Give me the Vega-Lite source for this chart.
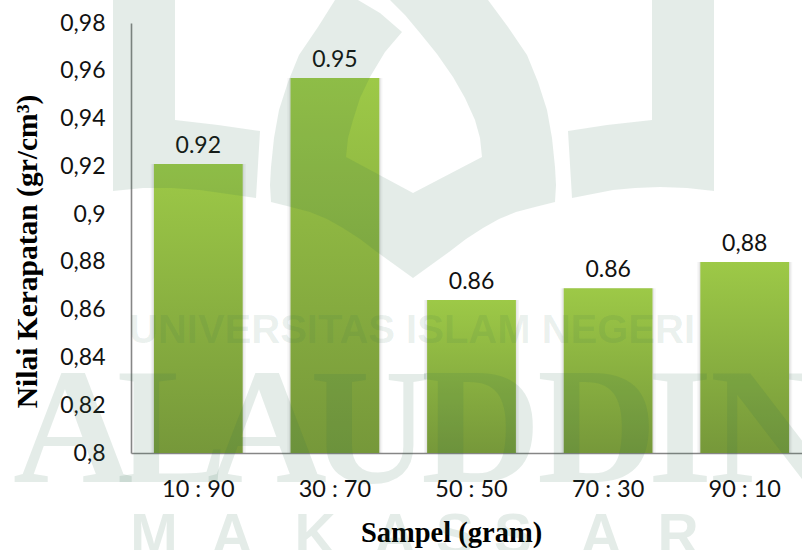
{
  "$schema": "https://vega.github.io/schema/vega-lite/v6.json",
  "width": 671,
  "height": 430,
  "padding": {"left": 131, "top": 23, "right": 0, "bottom": 97},
  "autosize": {"type": "none"},
  "background": "white",
  "config": {"view": {"stroke": null}},
  "datasets": {
    "samples": [
      {"sampel": "10 : 90", "kerapatan": 0.921, "teks": "0.92"},
      {"sampel": "30 : 70", "kerapatan": 0.957, "teks": "0.95"},
      {"sampel": "50 : 50", "kerapatan": 0.864, "teks": "0.86"},
      {"sampel": "70 : 30", "kerapatan": 0.869, "teks": "0.86"},
      {"sampel": "90 : 10", "kerapatan": 0.88, "teks": "0,88"}
    ],
    "emblem": [
      {"part": "kiri", "n": 1, "u": -300, "v": 460},
      {"part": "kiri", "n": 2, "u": -238, "v": 460},
      {"part": "kiri", "n": 3, "u": -238, "v": 333},
      {"part": "kiri", "n": 4, "u": -195, "v": 328},
      {"part": "kiri", "n": 5, "u": -153, "v": 322},
      {"part": "kiri", "n": 6, "u": -157, "v": 255},
      {"part": "kiri", "n": 7, "u": -185, "v": 259},
      {"part": "kiri", "n": 8, "u": -213, "v": 263},
      {"part": "kiri", "n": 9, "u": -241, "v": 265},
      {"part": "kiri", "n": 10, "u": -270, "v": 265},
      {"part": "kiri", "n": 11, "u": -300, "v": 262},
      {"part": "kanan", "n": 1, "u": 239, "v": 460},
      {"part": "kanan", "n": 2, "u": 301, "v": 460},
      {"part": "kanan", "n": 3, "u": 301, "v": 262},
      {"part": "kanan", "n": 4, "u": 274, "v": 265},
      {"part": "kanan", "n": 5, "u": 247, "v": 266},
      {"part": "kanan", "n": 6, "u": 222, "v": 265},
      {"part": "kanan", "n": 7, "u": 200, "v": 263},
      {"part": "kanan", "n": 8, "u": 159, "v": 255},
      {"part": "kanan", "n": 9, "u": 155, "v": 322},
      {"part": "kanan", "n": 10, "u": 194, "v": 328},
      {"part": "kanan", "n": 11, "u": 239, "v": 333},
      {"part": "tengah", "n": 1, "u": -142, "v": 251},
      {"part": "tengah", "n": 2, "u": -143, "v": 268},
      {"part": "tengah", "n": 3, "u": -142, "v": 286},
      {"part": "tengah", "n": 4, "u": -139, "v": 315},
      {"part": "tengah", "n": 5, "u": -134, "v": 343},
      {"part": "tengah", "n": 6, "u": -125, "v": 371},
      {"part": "tengah", "n": 7, "u": -114, "v": 398},
      {"part": "tengah", "n": 8, "u": -95, "v": 426},
      {"part": "tengah", "n": 9, "u": -78, "v": 453},
      {"part": "tengah", "n": 10, "u": -55, "v": 453},
      {"part": "tengah", "n": 11, "u": -33, "v": 440},
      {"part": "tengah", "n": 12, "u": -11, "v": 421},
      {"part": "tengah", "n": 13, "u": -28, "v": 401},
      {"part": "tengah", "n": 14, "u": -43, "v": 376},
      {"part": "tengah", "n": 15, "u": -53, "v": 355},
      {"part": "tengah", "n": 16, "u": -60, "v": 333},
      {"part": "tengah", "n": 17, "u": -65, "v": 315},
      {"part": "tengah", "n": 18, "u": -67, "v": 296},
      {"part": "tengah", "n": 19, "u": 0, "v": 260},
      {"part": "tengah", "n": 20, "u": 69, "v": 296},
      {"part": "tengah", "n": 21, "u": 67, "v": 315},
      {"part": "tengah", "n": 22, "u": 62, "v": 333},
      {"part": "tengah", "n": 23, "u": 52, "v": 355},
      {"part": "tengah", "n": 24, "u": 40, "v": 376},
      {"part": "tengah", "n": 25, "u": 24, "v": 399},
      {"part": "tengah", "n": 26, "u": 7, "v": 420},
      {"part": "tengah", "n": 27, "u": -8, "v": 438},
      {"part": "tengah", "n": 28, "u": -23, "v": 453},
      {"part": "tengah", "n": 29, "u": 75, "v": 453},
      {"part": "tengah", "n": 30, "u": 95, "v": 426},
      {"part": "tengah", "n": 31, "u": 114, "v": 398},
      {"part": "tengah", "n": 32, "u": 125, "v": 371},
      {"part": "tengah", "n": 33, "u": 134, "v": 343},
      {"part": "tengah", "n": 34, "u": 139, "v": 315},
      {"part": "tengah", "n": 35, "u": 142, "v": 286},
      {"part": "tengah", "n": 36, "u": 143, "v": 268},
      {"part": "tengah", "n": 37, "u": 142, "v": 251},
      {"part": "tengah", "n": 38, "u": 122, "v": 246},
      {"part": "tengah", "n": 39, "u": 103, "v": 241},
      {"part": "tengah", "n": 40, "u": 86, "v": 234},
      {"part": "tengah", "n": 41, "u": 70, "v": 225},
      {"part": "tengah", "n": 42, "u": 53, "v": 214},
      {"part": "tengah", "n": 43, "u": 36, "v": 201},
      {"part": "tengah", "n": 44, "u": 18, "v": 188},
      {"part": "tengah", "n": 45, "u": 0, "v": 175},
      {"part": "tengah", "n": 46, "u": -18, "v": 188},
      {"part": "tengah", "n": 47, "u": -36, "v": 201},
      {"part": "tengah", "n": 48, "u": -53, "v": 214},
      {"part": "tengah", "n": 49, "u": -70, "v": 225},
      {"part": "tengah", "n": 50, "u": -86, "v": 234},
      {"part": "tengah", "n": 51, "u": -103, "v": 241},
      {"part": "tengah", "n": 52, "u": -122, "v": 246}
    ],
    "serif": [
      {"huruf": "A", "u": -340},
      {"huruf": "L", "u": -241},
      {"huruf": "A", "u": -146},
      {"huruf": "U", "u": -43},
      {"huruf": "D", "u": 68},
      {"huruf": "D", "u": 184},
      {"huruf": "I", "u": 267},
      {"huruf": "N", "u": 357}
    ],
    "kota": [
      {"huruf": "M", "u": -259},
      {"huruf": "A", "u": -181},
      {"huruf": "K", "u": -98},
      {"huruf": "A", "u": -18},
      {"huruf": "S", "u": 42},
      {"huruf": "S", "u": 100},
      {"huruf": "A", "u": 188},
      {"huruf": "R", "u": 265}
    ],
    "nama": [{"teks": "UNIVERSITAS ISLAM NEGERI", "u": -1}]
  },
  "resolve": {"scale": {"x": "independent", "y": "independent"}},
  "layer": [
    {
      "data": {"name": "samples"},
      "encoding": {
        "x": {
          "field": "sampel",
          "type": "nominal",
          "sort": null,
          "scale": {"paddingInner": 0.35, "paddingOuter": 0.131, "align": 0.64},
          "axis": {
            "title": "Sampel (gram)",
            "titleFont": "Liberation Serif",
            "titleFontSize": 28.5,
            "titleFontWeight": "bold",
            "titleColor": "#000000",
            "titleX": 320,
            "titleY": 88,
            "titleAlign": "center",
            "titleBaseline": "alphabetic",
            "labelAngle": 0,
            "labelFont": "Lato",
            "labelFontSize": 23.5,
            "labelColor": "#111111",
            "labelPadding": 24,
            "ticks": false,
            "grid": false,
            "domainColor": "#868686",
            "domainWidth": 1.6
          }
        },
        "y": {
          "field": "kerapatan",
          "type": "quantitative",
          "scale": {"domain": [0.8, 0.98], "zero": false, "nice": false},
          "axis": {
            "title": "Nilai Kerapatan (gr/cm³)",
            "titleFont": "Liberation Serif",
            "titleFontSize": 29.5,
            "titleFontWeight": "bold",
            "titleColor": "#000000",
            "titleX": -95,
            "titleY": 228,
            "titleAlign": "center",
            "titleBaseline": "alphabetic",
            "values": [0.8, 0.82, 0.84, 0.86, 0.88, 0.9, 0.92, 0.94, 0.96, 0.98],
            "labelExpr": "replace(format(datum.value, '.2~f'), '.', ',')",
            "labelFont": "Lato",
            "labelFontSize": 23,
            "labelColor": "#111111",
            "labelPadding": 26,
            "ticks": false,
            "grid": false,
            "domainColor": "#868686",
            "domainWidth": 1.6
          }
        }
      },
      "layer": [
        {
          "mark": {"type": "bar", "width": {"band": 1.07}, "fill": "#000000", "opacity": 0.04},
          "encoding": {"y2": {"datum": 0.8}}
        },
        {
          "mark": {"type": "bar", "width": {"band": 1.035}, "fill": "#000000", "opacity": 0.06},
          "encoding": {"y2": {"datum": 0.8}}
        },
        {
          "mark": {
            "type": "bar",
            "fill": {
              "gradient": "linear",
              "x1": 0, "y1": 0, "x2": 0, "y2": 1,
              "stops": [
                {"offset": 0, "color": "#9dc947"},
                {"offset": 1, "color": "#76983a"}
              ]
            }
          },
          "encoding": {"y2": {"datum": 0.8}}
        },
        {
          "mark": {"type": "text", "font": "Lato", "fontSize": 23, "color": "#111111", "baseline": "alphabetic", "dy": -11},
          "encoding": {"text": {"field": "teks"}}
        }
      ]
    },
    {
      "data": {"name": "emblem"},
      "mark": {"type": "line", "fill": "#2e6b4f", "fillOpacity": 0.13, "strokeWidth": 0, "interpolate": "linear"},
      "encoding": {
        "x": {"field": "u", "type": "quantitative", "scale": {"domain": [-282, 389], "nice": false, "zero": false}, "axis": null},
        "y": {"field": "v", "type": "quantitative", "scale": {"domain": [0, 430], "nice": false, "zero": false}, "axis": null},
        "detail": {"field": "part"},
        "order": {"field": "n"}
      }
    },
    {
      "data": {"name": "serif"},
      "mark": {"type": "text", "font": "Liberation Serif", "fontWeight": "bold", "fontSize": 166, "align": "center", "baseline": "alphabetic", "fill": "#2e6b4f", "fillOpacity": 0.13},
      "encoding": {
        "x": {"field": "u", "type": "quantitative", "scale": {"domain": [-282, 389], "nice": false, "zero": false}, "axis": null},
        "y": {"datum": -29, "type": "quantitative", "scale": {"domain": [0, 430], "nice": false, "zero": false}, "axis": null},
        "text": {"field": "huruf"}
      }
    },
    {
      "data": {"name": "kota"},
      "mark": {"type": "text", "font": "Liberation Sans", "fontWeight": "bold", "fontSize": 57, "align": "center", "baseline": "alphabetic", "fill": "#2e6b4f", "fillOpacity": 0.13},
      "encoding": {
        "x": {"field": "u", "type": "quantitative", "scale": {"domain": [-282, 389], "nice": false, "zero": false}, "axis": null},
        "y": {"datum": -101, "type": "quantitative", "scale": {"domain": [0, 430], "nice": false, "zero": false}, "axis": null},
        "text": {"field": "huruf"}
      }
    },
    {
      "data": {"name": "nama"},
      "mark": {"type": "text", "font": "Liberation Sans", "fontWeight": "bold", "fontSize": 40, "align": "center", "baseline": "alphabetic", "fill": "#2e6b4f", "fillOpacity": 0.1},
      "encoding": {
        "x": {"field": "u", "type": "quantitative", "scale": {"domain": [-282, 389], "nice": false, "zero": false}, "axis": null},
        "y": {"datum": 110, "type": "quantitative", "scale": {"domain": [0, 430], "nice": false, "zero": false}, "axis": null},
        "text": {"field": "teks"}
      }
    }
  ]
}
